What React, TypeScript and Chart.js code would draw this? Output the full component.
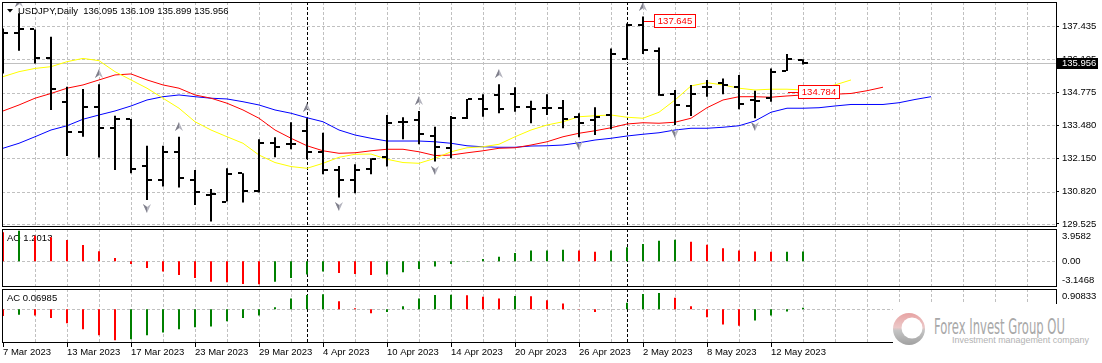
import React, { useEffect, useRef } from "react";
import { Chart, registerables } from "chart.js";

Chart.register(...registerables);

// ---------------- data ----------------
const symbolTitle = "USDJPY,Daily";

const dates = [
  "7 Mar 2023", "8 Mar 2023", "9 Mar 2023", "10 Mar 2023", "13 Mar 2023", "14 Mar 2023", "15 Mar 2023", "16 Mar 2023", "17 Mar 2023",
  "20 Mar 2023", "21 Mar 2023", "22 Mar 2023", "23 Mar 2023", "24 Mar 2023", "27 Mar 2023", "28 Mar 2023", "29 Mar 2023",
  "30 Mar 2023", "31 Mar 2023", "3 Apr 2023", "4 Apr 2023", "5 Apr 2023", "6 Apr 2023", "7 Apr 2023", "10 Apr 2023",
  "11 Apr 2023", "12 Apr 2023", "13 Apr 2023", "14 Apr 2023", "17 Apr 2023", "18 Apr 2023", "19 Apr 2023", "20 Apr 2023",
  "21 Apr 2023", "24 Apr 2023", "25 Apr 2023", "26 Apr 2023", "27 Apr 2023", "28 Apr 2023", "1 May 2023", "2 May 2023",
  "3 May 2023", "4 May 2023", "5 May 2023", "8 May 2023", "9 May 2023", "10 May 2023", "11 May 2023", "12 May 2023",
  "15 May 2023", "16 May 2023",
];

const opens = [
  136.90, 137.14, 137.30, 136.14, 134.41, 133.19, 134.19, 133.35, 133.72, 131.86,
  131.28, 132.39, 131.28, 130.68, 130.42, 131.55, 130.86, 132.77, 132.71, 133.24,
  132.41, 131.68, 131.28, 131.71, 132.22, 133.59, 133.68, 133.04, 132.55, 133.75,
  134.52, 134.68, 134.72, 134.21, 134.17, 134.15, 133.79, 133.68, 133.88, 136.12,
  137.48, 136.45, 134.72, 134.24, 134.99, 135.17, 135.01, 134.48, 134.55, 135.64,
  136.095,
];
const highs = [
  137.34, 137.94, 137.30, 137.01, 135.01, 134.92, 135.11, 133.85, 133.72, 132.65,
  132.65, 133.01, 131.68, 130.92, 131.75, 131.55, 132.91, 132.99, 133.59, 133.75,
  133.17, 131.84, 131.91, 132.15, 133.88, 133.79, 134.04, 133.41, 133.84, 134.52,
  134.71, 135.11, 134.99, 134.45, 134.71, 134.48, 133.95, 134.19, 136.54, 137.54,
  137.81, 136.58, 134.88, 135.08, 135.28, 135.34, 135.48, 134.85, 135.74, 136.32,
  136.109,
];
const lows = [
  135.54, 136.45, 135.94, 134.08, 132.24, 133.01, 132.18, 131.68, 131.55, 130.48,
  131.02, 130.98, 130.28, 129.62, 130.42, 130.38, 130.78, 132.19, 132.51, 132.11,
  131.51, 130.58, 130.75, 131.51, 131.82, 132.91, 132.71, 132.02, 132.15, 133.72,
  133.81, 133.95, 134.01, 133.55, 133.88, 133.35, 132.99, 133.08, 133.31, 136.10,
  136.32, 134.65, 133.48, 133.84, 134.61, 134.71, 134.11, 133.75, 134.41, 135.64,
  135.899,
];
const closes = [
  137.14, 137.30, 136.14, 134.91, 133.21, 134.19, 133.35, 133.72, 131.72, 131.28,
  132.39, 131.38, 130.82, 130.71, 131.52, 130.86, 132.77, 132.61, 132.71, 132.41,
  131.68, 131.28, 131.68, 132.11, 133.55, 133.59, 133.11, 132.61, 133.77, 134.52,
  134.12, 134.11, 134.21, 134.12, 134.17, 133.71, 133.57, 133.81, 136.32, 137.48,
  136.48, 134.68, 134.28, 134.72, 135.01, 135.08, 134.32, 134.45, 135.61, 136.10,
  135.956,
];

// Alligator lines (yellow lips, red teeth, blue jaw)
const lipsLine = [
  135.41, 135.61, 135.74, 135.81, 136.01, 136.14, 136.05, 135.61, 135.28, 134.95,
  134.55, 134.15, 133.61, 133.28, 133.01, 132.75, 132.28, 131.98, 131.82, 131.75,
  131.95, 132.19, 132.31, 132.32, 132.11, 131.98, 131.95, 132.15, 132.41, 132.57,
  132.61, 132.71, 133.01, 133.28, 133.48, 133.61, 133.81, 133.85, 133.88, 133.79,
  133.75, 133.99, 134.48, 135.04, 135.17, 135.08, 134.95, 134.88, 134.91, 134.91,
  134.88, 134.95, 135.08, 135.28,
];
const teethLine = [
  134.04, 134.28, 134.55, 134.74, 134.95, 135.08, 135.28, 135.48, 135.52, 135.28,
  135.08, 134.95, 134.68, 134.55, 134.35, 134.08, 133.75, 133.28, 132.95, 132.65,
  132.45, 132.35, 132.37, 132.45, 132.51, 132.51, 132.41, 132.26, 132.28, 132.37,
  132.45, 132.55, 132.57, 132.68, 132.81, 133.01, 133.15, 133.25, 133.37, 133.52,
  133.57, 133.55, 133.59, 133.75, 134.17, 134.48, 134.61, 134.61, 134.59, 134.64,
  134.68, 134.68, 134.71, 134.74, 134.85, 134.99,
];
const jawLine = [
  132.55, 132.75, 133.01, 133.28, 133.45, 133.71, 133.88, 134.04, 134.24, 134.48,
  134.61, 134.68, 134.61, 134.55, 134.52, 134.41, 134.28, 134.08, 133.95, 133.77,
  133.61, 133.28, 133.08, 132.95, 132.84, 132.84, 132.84, 132.81, 132.75, 132.65,
  132.61, 132.59, 132.59, 132.64, 132.65, 132.68, 132.77, 132.88, 132.95, 133.04,
  133.11, 133.17, 133.28, 133.35, 133.35, 133.39, 133.45, 133.64, 133.99, 134.15,
  134.15, 134.17, 134.24, 134.30, 134.30, 134.30, 134.37, 134.50, 134.61,
];

const fractalUpBars = [1, 6, 11, 19, 26, 31, 40];
const fractalDownBars = [9, 13, 21, 27, 36, 42, 47];

const aoValues = [
  3.55, 3.75, 3.14, 2.94, 2.61, 2.00, 1.22, 0.41, -0.33, -0.82,
  -1.26, -1.67, -2.04, -2.49, -2.57, -2.77, -2.82, -2.49, -2.04, -1.63,
  -1.26, -1.43, -1.55, -1.67, -1.63, -1.35, -0.94, -0.65, -0.33, 0.04,
  0.29, 0.57, 1.02, 1.31, 1.33, 1.43, 1.31, 1.18, 1.31, 1.71,
  2.12, 2.53, 2.65, 2.41, 2.04, 1.59, 1.31, 1.19, 1.16, 1.18,
  1.2013,
];
const acValues = [
  -0.30, -0.24, -0.27, -0.39, -0.62, -0.89, -1.15, -1.38, -1.33, -1.15,
  -1.03, -0.89, -0.80, -0.76, -0.53, -0.39, -0.27, 0.09, 0.48, 0.64,
  0.67, 0.36, 0.05, -0.17, -0.12, 0.14, 0.48, 0.64, 0.65, 0.63,
  0.56, 0.48, 0.60, 0.58, 0.41, 0.26, 0.02, -0.12, 0.01, 0.30,
  0.68, 0.73, 0.52, 0.14, -0.35, -0.68, -0.73, -0.50, -0.27, -0.09,
  0.06985,
];

const priceTicks = [137.435, 136.105, 134.775, 133.48, 132.15, 130.82, 129.525];
const aoAxisLabels = ["3.9582", "0.00", "-3.1468"];
const acAxisLabels = ["0.90833"];
const bidPrice = 135.956;
const separatorBars = [19, 39];
const markBars = [40, 49];
const markPrices = [137.645, 134.784];

// ---------------- layout / style ----------------
const FONT_FAMILY = "'Liberation Sans', Arial, sans-serif";
const FONT_SIZE = 9.5;
const FONT = `${FONT_SIZE}px ${FONT_FAMILY}`;
const GRID_COLOR = "#c0c0c0";
const GRID_DASH = [3, 2];
const SEP_DASH = [3, 2];
const CANVAS_W = 1102;
const PLOT_LEFT = 2;
const AXIS_W = 46;
const BAR_SPACING = 16;
const X_MIN = -1 / 16;
const X_MAX = X_MIN + (CANVAS_W - AXIS_W - PLOT_LEFT) / BAR_SPACING;
const PRICE_MIN = 129.405;
const PRICE_MAX = 138.394;
const AO_MIN = -3.1468;
const AO_MAX = 3.9582;
const AC_MIN = -1.5;
const AC_MAX = 0.90833;
const UP_COLOR = "#008000";
const DOWN_COLOR = "#ff0000";
const GRID_BARS: number[] = [];
for (let b = 0; b <= 64; b += 2) GRID_BARS.push(b);

const upDownColors = (vals: number[]) =>
  vals.map((v, i) => (i > 0 && v > vals[i - 1] ? UP_COLOR : DOWN_COLOR));

function clipArea(ctx: any, a: any) {
  ctx.beginPath();
  ctx.rect(a.left, a.top, a.right - a.left, a.bottom - a.top);
  ctx.clip();
}

function drawGrid(chart: any, hValues: number[]) {
  const { ctx, chartArea: a, scales } = chart;
  const xs = scales.x;
  const ys = scales.y;
  ctx.save();
  clipArea(ctx, a);
  ctx.strokeStyle = GRID_COLOR;
  ctx.lineWidth = 1;
  ctx.setLineDash(GRID_DASH);
  ctx.beginPath();
  for (const b of GRID_BARS) {
    const x = Math.round(xs.getPixelForValue(b)) + 0.5;
    if (x < a.left + 2 || x > a.right - 1) continue;
    ctx.moveTo(x, a.top);
    ctx.lineTo(x, a.bottom);
  }
  for (const v of hValues) {
    const y = Math.round(ys.getPixelForValue(v)) + 0.5;
    ctx.moveTo(a.left, y);
    ctx.lineTo(a.right, y);
  }
  ctx.stroke();
  ctx.strokeStyle = "#000";
  ctx.setLineDash(SEP_DASH);
  ctx.beginPath();
  for (const b of separatorBars) {
    const x = Math.round(xs.getPixelForValue(b)) + 0.5;
    ctx.moveTo(x, a.top);
    ctx.lineTo(x, a.bottom);
  }
  ctx.stroke();
  ctx.restore();
}

function drawBorder(chart: any) {
  const { ctx, chartArea: a } = chart;
  ctx.save();
  ctx.strokeStyle = "#000";
  ctx.lineWidth = 1;
  ctx.setLineDash([]);
  ctx.strokeRect(a.left + 0.5, a.top + 0.5, a.right - a.left, a.bottom - a.top - 1);
  ctx.restore();
}

function drawArrow(ctx: any, cx: number, cy: number, up: boolean) {
  const s = up ? 1 : -1;
  ctx.beginPath();
  ctx.moveTo(cx, cy - 5 * s);
  ctx.lineTo(cx + 4, cy + 4 * s);
  ctx.lineTo(cx, cy + 1 * s);
  ctx.lineTo(cx - 4, cy + 4 * s);
  ctx.closePath();
  ctx.fillStyle = "#b4b4be";
  ctx.fill();
  ctx.beginPath();
  ctx.moveTo(cx, cy - 5 * s);
  ctx.lineTo(cx, cy + 1 * s);
  ctx.lineTo(cx - 4, cy + 4 * s);
  ctx.closePath();
  ctx.fillStyle = "#80808c";
  ctx.fill();
}

const mainPanelPlugin = {
  id: "mainPanel",
  beforeDatasetsDraw(chart: any) {
    drawGrid(chart, priceTicks);
    const { ctx, chartArea: a, scales } = chart;
    ctx.save();
    const yb = Math.round(scales.y.getPixelForValue(bidPrice)) + 0.5;
    ctx.strokeStyle = GRID_COLOR;
    ctx.lineWidth = 1;
    ctx.beginPath();
    ctx.moveTo(a.left, yb);
    ctx.lineTo(a.right, yb);
    ctx.stroke();
    ctx.fillStyle = "#000";
    ctx.beginPath();
    ctx.moveTo(7, 9);
    ctx.lineTo(13, 9);
    ctx.lineTo(10, 12.5);
    ctx.closePath();
    ctx.fill();
    ctx.font = FONT;
    ctx.textBaseline = "middle";
    ctx.textAlign = "left";
    const n = opens.length - 1;
    ctx.fillText(
      `${symbolTitle}  ${opens[n].toFixed(3)} ${highs[n].toFixed(3)} ${lows[n].toFixed(3)} ${closes[n].toFixed(3)}`,
      18,
      11.5
    );
    ctx.restore();
  },
  afterDatasetsDraw(chart: any) {
    const { ctx, chartArea: a, scales } = chart;
    const xs = scales.x;
    const ys = scales.y;
    ctx.save();
    clipArea(ctx, a);
    ctx.fillStyle = "#000";
    for (let i = 0; i < opens.length; i++) {
      const x = Math.round(xs.getPixelForValue(i));
      const yo = Math.round(ys.getPixelForValue(opens[i]));
      const yc = Math.round(ys.getPixelForValue(closes[i]));
      ctx.fillRect(x - 5, yo - 1, 4, 2);
      ctx.fillRect(x + 1, yc - 1, 4, 2);
    }
    for (const i of fractalUpBars) {
      drawArrow(ctx, Math.round(xs.getPixelForValue(i)), Math.round(ys.getPixelForValue(highs[i])) - 10, true);
    }
    for (const i of fractalDownBars) {
      drawArrow(ctx, Math.round(xs.getPixelForValue(i)), Math.round(ys.getPixelForValue(lows[i])) + 8, false);
    }
    // price labels
    ctx.font = FONT;
    ctx.textBaseline = "middle";
    ctx.textAlign = "center";
    ctx.lineWidth = 1;
    for (let k = 0; k < markBars.length; k++) {
      const bx = Math.round(xs.getPixelForValue(markBars[k]));
      const r = Math.round(ys.getPixelForValue(markPrices[k]));
      ctx.strokeStyle = "#ff0000";
      ctx.beginPath();
      ctx.moveTo(bx + 1, r + 0.5);
      ctx.lineTo(bx + 11, r + 0.5);
      ctx.stroke();
      ctx.fillStyle = "#fff";
      ctx.fillRect(bx + 11, r - 7, 42, 14);
      ctx.strokeRect(bx + 11.5, r - 6.5, 41, 13);
      ctx.fillStyle = "#ff0000";
      ctx.fillText(markPrices[k].toFixed(3), bx + 32, r + 0.5);
    }
    ctx.restore();
  },
  afterDraw(chart: any) {
    drawBorder(chart);
    const { ctx, chartArea: a, scales } = chart;
    const r = Math.round(scales.y.getPixelForValue(bidPrice));
    ctx.save();
    ctx.fillStyle = "#000";
    ctx.fillRect(a.right + 1, r - 5, 41, 11);
    ctx.fillStyle = "#fff";
    ctx.font = FONT;
    ctx.textBaseline = "middle";
    ctx.textAlign = "left";
    ctx.fillText(bidPrice.toFixed(3), a.right + 6, r + 0.5);
    ctx.restore();
  },
};

function subPanelPlugin(id: string, name: string, last: string, axisLabels: string[], hasBottomLabel: boolean) {
  return {
    id,
    beforeDatasetsDraw(chart: any) {
      drawGrid(chart, [0]);
      const { ctx, chartArea: a } = chart;
      ctx.save();
      ctx.fillStyle = "#000";
      ctx.font = FONT;
      ctx.textBaseline = "middle";
      ctx.textAlign = "left";
      ctx.fillText(`${name} ${last}`, 7, a.top + 9.5);
      ctx.restore();
    },
    afterDraw(chart: any) {
      drawBorder(chart);
      const { ctx, chartArea: a, scales } = chart;
      ctx.save();
      ctx.fillStyle = "#000";
      ctx.font = FONT;
      ctx.textBaseline = "middle";
      ctx.textAlign = "left";
      const lx = a.right + 6;
      ctx.fillText(axisLabels[0], lx, a.top + 7.5);
      if (axisLabels.length > 1) {
        ctx.fillText(axisLabels[1], lx, Math.round(scales.y.getPixelForValue(0)) + 0.5);
      }
      if (hasBottomLabel && axisLabels.length > 2) {
        ctx.fillText(axisLabels[2], lx, a.bottom - 6.5);
      }
      ctx.restore();
    },
  };
}

const fontOpt = { family: FONT_FAMILY, size: FONT_SIZE };

const hiddenX = () => ({
  type: "linear",
  min: X_MIN,
  max: X_MAX,
  bounds: "data",
  offset: false,
  display: false,
});

const sideAxis = (min: number, max: number) => ({
  type: "linear",
  position: "right",
  min,
  max,
  bounds: "data",
  ticks: { display: false },
  grid: { display: false },
  border: { display: false },
  afterFit: (s: any) => {
    s.width = AXIS_W;
    s.paddingTop = 0;
    s.paddingBottom = 0;
  },
});

const baseOptions = {
  responsive: false,
  animation: false,
  devicePixelRatio: 1,
  events: [],
  plugins: { legend: { display: false }, tooltip: { enabled: false }, title: { display: false } },
};

function mainConfig(): any {
  const line = (vals: number[], color: string, order: number) => ({
    type: "line",
    data: vals.map((v, i) => ({ x: i, y: v })),
    borderColor: color,
    borderWidth: 1,
    pointRadius: 0,
    tension: 0,
    fill: false,
    order,
  });
  return {
    type: "line",
    data: {
      datasets: [
        line(jawLine, "#0000ff", 3),
        line(teethLine, "#ff0000", 2),
        line(lipsLine, "#ffff00", 1),
        {
          type: "bar",
          data: highs.map((h, i) => ({ x: i, y: [lows[i], h] })),
          backgroundColor: "#000",
          borderWidth: 0,
          barThickness: 2,
          inflateAmount: 0,
          order: 0,
        },
      ],
    },
    options: {
      ...baseOptions,
      layout: { padding: { top: 2, left: PLOT_LEFT, right: 0, bottom: 2 } },
      scales: {
        x: hiddenX(),
        y: {
          type: "linear",
          position: "right",
          min: PRICE_MIN,
          max: PRICE_MAX,
          bounds: "data",
          afterBuildTicks: (s: any) => {
            s.ticks = priceTicks.map((v) => ({ value: v }));
          },
          afterFit: (s: any) => {
            s.width = AXIS_W;
            s.paddingTop = 0;
            s.paddingBottom = 0;
          },
          ticks: {
            autoSkip: false,
            padding: 3,
            color: "#000",
            font: fontOpt,
            callback: (v: any) => Number(v).toFixed(3),
          },
          grid: {
            display: true,
            drawOnChartArea: false,
            drawTicks: true,
            tickLength: 3,
            tickColor: "#000",
            color: "rgba(0,0,0,0)",
          },
          border: { display: false },
        },
      },
    },
    plugins: [mainPanelPlugin],
  };
}

function histDataset(vals: number[]) {
  return {
    type: "bar",
    data: vals.map((v, i) => ({ x: i, y: v })),
    backgroundColor: upDownColors(vals),
    borderWidth: 0,
    barThickness: 2,
    inflateAmount: 0,
  };
}

function aoConfig(): any {
  return {
    type: "bar",
    data: { datasets: [histDataset(aoValues)] },
    options: {
      ...baseOptions,
      layout: { padding: { top: 1, left: PLOT_LEFT, right: 0, bottom: 1 } },
      scales: { x: hiddenX(), y: sideAxis(AO_MIN, AO_MAX) },
    },
    plugins: [subPanelPlugin("aoPanel", "AO", aoValues[aoValues.length - 1].toFixed(4), aoAxisLabels, true)],
  };
}

function acConfig(): any {
  return {
    type: "bar",
    data: { datasets: [histDataset(acValues)] },
    options: {
      ...baseOptions,
      layout: { padding: { top: 1, left: PLOT_LEFT, right: 0, bottom: 0 } },
      scales: {
        x: {
          type: "linear",
          position: "bottom",
          min: X_MIN,
          max: X_MAX,
          bounds: "data",
          offset: false,
          afterBuildTicks: (s: any) => {
            s.ticks = GRID_BARS.map((v) => ({ value: v }));
          },
          afterFit: (s: any) => {
            s.height = 20;
            s.paddingLeft = 0;
            s.paddingRight = 0;
          },
          ticks: {
            autoSkip: false,
            maxRotation: 0,
            minRotation: 0,
            align: "start",
            padding: 0,
            color: "#000",
            font: fontOpt,
            callback: (value: any) => {
              const v = Number(value);
              return v % 4 === 0 && v < dates.length ? dates[v] : "";
            },
          },
          grid: {
            display: true,
            offset: false,
            drawOnChartArea: false,
            drawTicks: true,
            tickLength: 4,
            tickWidth: 1,
            color: "rgba(0,0,0,0)",
            tickColor: (c: any) =>
              c.tick && c.tick.value % 4 === 0 && c.tick.value < dates.length ? "#000" : "rgba(0,0,0,0)",
          },
          border: { display: false },
        },
        y: sideAxis(AC_MIN, AC_MAX),
      },
    },
    plugins: [subPanelPlugin("acPanel", "AC", acValues[acValues.length - 1].toFixed(5), acAxisLabels, false)],
  };
}

function Watermark() {
  return (
    <svg
      width={209}
      height={59}
      style={{ position: "absolute", left: 893, top: 304 }}
    >
      <defs>
        <linearGradient id="wmGrad" x1="0" y1="0" x2="0" y2="1">
          <stop offset="0" stopColor="#e7a3a3" />
          <stop offset="0.45" stopColor="#ecc8c8" />
          <stop offset="0.55" stopColor="#c4c4c4" />
          <stop offset="1" stopColor="#a0a0a0" />
        </linearGradient>
      </defs>
      <rect x={0} y={0} width={209} height={59} fill="#fff" />
      <circle cx={16} cy={25} r={16} fill="url(#wmGrad)" />
      <circle cx={19} cy={24} r={10.5} fill="#fff" />
      <text
        x={41}
        y={30}
        fontSize={21}
        fill="#a8a8a8"
        fontFamily="'DejaVu Sans Condensed', 'Liberation Sans', sans-serif"
        textLength={131}
        lengthAdjust="spacingAndGlyphs"
      >
        Forex Invest Group OU
      </text>
      <text
        x={59}
        y={39}
        fontSize={9}
        fill="#b2b2b2"
        fontFamily="'Liberation Sans', Arial, sans-serif"
        textLength={137}
        lengthAdjust="spacingAndGlyphs"
      >
        Investment management company
      </text>
    </svg>
  );
}

export default function App() {
  const mainRef = useRef<HTMLCanvasElement>(null);
  const aoRef = useRef<HTMLCanvasElement>(null);
  const acRef = useRef<HTMLCanvasElement>(null);

  useEffect(() => {
    const charts: any[] = [];
    if (mainRef.current) charts.push(new Chart(mainRef.current, mainConfig()));
    if (aoRef.current) charts.push(new Chart(aoRef.current, aoConfig()));
    if (acRef.current) charts.push(new Chart(acRef.current, acConfig()));
    return () => charts.forEach((c) => c.destroy());
  }, []);

  return (
    <div
      style={{
        position: "absolute",
        left: 0,
        top: 0,
        width: 1102,
        height: 363,
        background: "#fff",
        overflow: "hidden",
      }}
    >
      <canvas ref={mainRef} width={1102} height={229} style={{ position: "absolute", left: 0, top: 0, width: 1102, height: 229 }} />
      <canvas ref={aoRef} width={1102} height={60} style={{ position: "absolute", left: 0, top: 228, width: 1102, height: 60 }} />
      <canvas ref={acRef} width={1102} height={75} style={{ position: "absolute", left: 0, top: 288, width: 1102, height: 75 }} />
      <Watermark />
    </div>
  );
}
